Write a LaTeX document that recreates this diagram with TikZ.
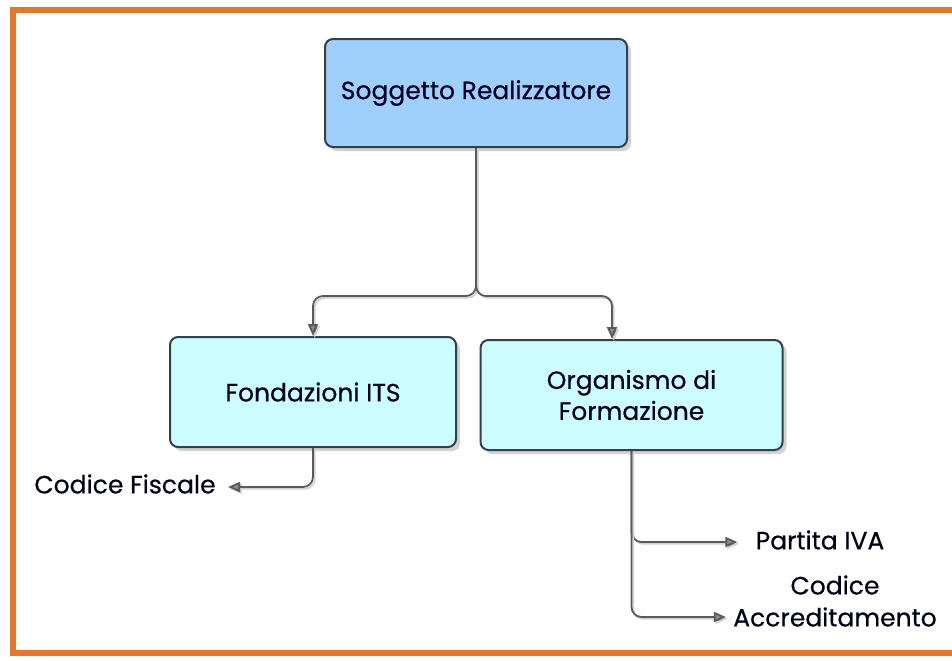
\documentclass[tikz,border=0pt]{standalone}
\usepackage{fontspec}
\setmainfont{Poppins}
\newfontfamily\diafont{Poppins}[FakeBold=0.5]
\usetikzlibrary{shadows,calc,arrows.meta}
\definecolor{frameor}{HTML}{E8762A}
\definecolor{topfill}{HTML}{9FCFFB}
\definecolor{subfill}{HTML}{CCFDFF}
\definecolor{edgec}{HTML}{34404C}
\definecolor{connc}{HTML}{5A5A5A}
\tikzset{
  boxstyle/.style={draw=edgec, line width=1pt, rounded corners=4pt,
    drop shadow={shadow xshift=2pt, shadow yshift=-2pt, opacity=0.35, fill=gray},
    align=center, font=\diafont\fontsize{12.5}{15.5}\selectfont, text=black!85!blue},
  topbox/.style={boxstyle, fill=topfill, minimum width=151pt, minimum height=54pt},
  subbox/.style={boxstyle, fill=subfill, minimum height=55pt},
  lbl/.style={font=\diafont\fontsize{12.5}{16}\selectfont, align=center, inner sep=0pt, text=black!90!blue},
  conn/.style={draw=connc, line width=0.9pt, rounded corners=5pt,
    preaction={draw=gray!35, line width=0.9pt, transform canvas={shift={(0.9pt,-0.9pt)}}},
    -{Triangle[length=6pt,width=5pt,fill=connc!70]}},
}
\begin{document}
\begin{tikzpicture}[x=0.5pt,y=-0.5pt]
\useasboundingbox (0,0) rectangle (952,660);
\fill[white] (0,0) rectangle (952,660);
% orange frame
\draw[frameor, line width=3pt] (960,10) -- (13,10) -- (13,653) -- (960,653);
% nodes
\node[topbox] (sr) at (476,93) {Soggetto Realizzatore};
\node[subbox, minimum width=143pt] (its) at (313,392) {Fondazioni ITS};
\node[subbox, minimum width=151pt] (org) at (631.5,395) {Organismo di\\Formazione};
\node[lbl] (cf) at (125,484) {Codice Fiscale};
\node[lbl] (piva) at (820,540) {Partita IVA};
\node[lbl] (ca) at (835,601) {Codice\\Accreditamento};
\coordinate (split) at (477,296);
% connectors
\draw[conn] (sr.south) -- (sr.south |- split) -| (its.north);
\draw[conn] (sr.south) -- (sr.south |- split) -| ($(org.north)+(-19.5,0)$);
\draw[conn] (its.south) |- ($(cf.east)+(12,3)$);
\draw[conn] (org.south) |- ($(piva.west)+(-18,2)$);
\draw[conn] (org.south) |- ($(ca.west)+(-7,16)$);
\end{tikzpicture}
\end{document}
